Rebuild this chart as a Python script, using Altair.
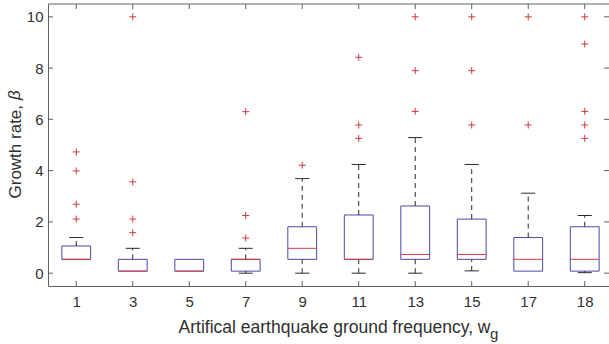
import altair as alt
import pandas as pd

# ---- data ----
cats = ["1", "3", "5", "7", "9", "11", "13", "15", "17", "18"]
q1 = [0.54, 0.08, 0.08, 0.08, 0.54, 0.54, 0.54, 0.54, 0.08, 0.08]
med = [0.54, 0.08, 0.08, 0.54, 0.97, 0.54, 0.73, 0.73, 0.54, 0.54]
q3 = [1.06, 0.54, 0.54, 0.54, 1.81, 2.27, 2.62, 2.11, 1.39, 1.81]
w_lo = [0.54, 0.08, 0.08, 0.00, 0.00, 0.00, 0.00, 0.09, 0.08, 0.02]
w_hi = [1.39, 0.97, 0.54, 0.97, 3.69, 4.24, 5.29, 4.24, 3.12, 2.25]

out_cat = ["1", "1", "1", "1",
           "3", "3", "3", "3",
           "7", "7", "7",
           "9",
           "11", "11", "11",
           "13", "13", "13",
           "15", "15", "15",
           "17", "17",
           "18", "18", "18", "18", "18"]
out_val = [4.73, 3.99, 2.69, 2.11,
           10.0, 3.56, 2.11, 1.58,
           6.30, 2.25, 1.37,
           4.21,
           8.42, 5.78, 5.26,
           10.0, 7.90, 6.31,
           10.0, 7.90, 5.78,
           10.0, 5.78,
           10.0, 8.94, 6.31, 5.78, 5.26]

y_ticks = [0, 2, 4, 6, 8, 10]

# ---- styling ----
W, H = 561, 282
BLUE = "#4848a8"
RED = "#d03c3c"
WHISK = "#2a2a2a"
AX = "#606060"
TXT = "#303030"
FONT = "Liberation Sans"

idx = list(range(1, len(cats) + 1))
box_df = pd.DataFrame({"i": idx, "cat": cats, "q1": q1, "med": med, "q3": q3,
                       "wlo": w_lo, "whi": w_hi})
out_df = pd.DataFrame({"i": [cats.index(c) + 1 for c in out_cat], "v": out_val})

xscale = alt.Scale(domain=[0.5, 10.43], nice=False, zero=False)
yscale = alt.Scale(domain=[-0.5, 10.5], nice=False, zero=False)

label_expr = "[" + ",".join("'%s'" % c for c in cats) + "][datum.value - 1]"

xaxis = alt.Axis(values=idx, labelExpr=label_expr, ticks=False, grid=False,
                 labelFontSize=15, labelPadding=8, labelColor=TXT, labelFont=FONT,
                 domainColor=AX, title="Artifical earthquake ground frequency, w",
                 titleFontSize=17.5, titleFont=FONT, titleFontWeight="normal",
                 titleColor=TXT, titleAlign="right", titleX=442, titleY=46,
                 titleBaseline="alphabetic")
yaxis = alt.Axis(values=y_ticks, ticks=False, grid=False, labelFontSize=15,
                 labelPadding=5, labelColor=TXT, labelFont=FONT, domainColor=AX,
                 title="Growth rate,", titleFontSize=17, titleFont=FONT,
                 titleFontWeight="normal", titleColor=TXT, titleAngle=270,
                 titleAlign="left", titleX=-28, titleY=194,
                 titleBaseline="alphabetic")


def X(f):
    return alt.X(f, scale=xscale, axis=xaxis)


def Y(f):
    return alt.Y(f, scale=yscale, axis=yaxis)


base = alt.Chart(box_df)

boxes = base.transform_calculate(
    x1="datum.i - 0.255", x2="datum.i + 0.255"
).mark_rect(fillOpacity=0, stroke=BLUE, strokeWidth=1).encode(
    x=X("x1:Q"), x2="x2:Q", y=Y("q1:Q"), y2="q3:Q")

medians = base.transform_calculate(
    x1="datum.i - 0.255", x2="datum.i + 0.255"
).mark_rule(color=RED, strokeWidth=1).encode(
    x=X("x1:Q"), x2="x2:Q", y=Y("med:Q"))

wh_up = base.transform_filter("datum.whi > datum.q3").mark_rule(
    color=WHISK, strokeWidth=1, strokeDash=[5, 4]).encode(
    x=X("i:Q"), y=Y("q3:Q"), y2="whi:Q")

wh_lo = base.transform_filter("datum.wlo < datum.q1").mark_rule(
    color=WHISK, strokeWidth=1, strokeDash=[5, 4]).encode(
    x=X("i:Q"), y=Y("wlo:Q"), y2="q1:Q")

cap_up = base.transform_filter("datum.whi > datum.q3").transform_calculate(
    c1="datum.i - 0.125", c2="datum.i + 0.125"
).mark_rule(color=WHISK, strokeWidth=1).encode(
    x=X("c1:Q"), x2="c2:Q", y=Y("whi:Q"))

cap_lo = base.transform_filter("datum.wlo < datum.q1").transform_calculate(
    c1="datum.i - 0.125", c2="datum.i + 0.125"
).mark_rule(color=WHISK, strokeWidth=1).encode(
    x=X("c1:Q"), x2="c2:Q", y=Y("wlo:Q"))

outs = alt.Chart(out_df).mark_point(
    shape="M-1,0L1,0M0,-1L0,1", filled=False, stroke=RED, strokeWidth=1,
    size=49, opacity=1).encode(x=X("i:Q"), y=Y("v:Q"))

# inward frame ticks (box-on style)
yt_df = pd.DataFrame({"v": y_ticks})
xt_df = pd.DataFrame({"i": idx})
tick_left = alt.Chart(yt_df).mark_rule(color=AX).encode(
    y=Y("v:Q"), x=alt.value(0), x2=alt.value(5))
tick_right = alt.Chart(yt_df).mark_rule(color=AX).encode(
    y=Y("v:Q"), x=alt.value(W - 5), x2=alt.value(W))
tick_bot = alt.Chart(xt_df).mark_rule(color=AX).encode(
    x=X("i:Q"), y=alt.value(H - 5), y2=alt.value(H))
tick_top = alt.Chart(xt_df).mark_rule(color=AX).encode(
    x=X("i:Q"), y=alt.value(0), y2=alt.value(5))

one = alt.Chart(pd.DataFrame({"k": [0]}))
top_border = one.mark_rule(color=AX).encode(
    x=alt.value(0), x2=alt.value(W), y=alt.value(0))
sub_g = one.mark_text(text="g", font=FONT, fontSize=15, color=TXT,
                      align="left", baseline="alphabetic").encode(
    x=alt.value(442), y=alt.value(335))
beta = one.mark_text(text="β", font=FONT, fontSize=17, fontStyle="italic",
                     color=TXT, angle=270, align="left",
                     baseline="alphabetic").encode(
    x=alt.value(-28), y=alt.value(96))

chart = alt.layer(
    boxes, wh_up, wh_lo, cap_up, cap_lo, medians, outs,
    tick_left, tick_right, tick_bot, tick_top, top_border, sub_g, beta
).properties(
    width=W, height=H,
    autosize=alt.AutoSizeParams(type="none"),
    padding={"left": 48, "top": 4, "right": 0, "bottom": 58},
    background="white",
).configure_view(stroke=None)

chart.save("out.html", embed_options={"renderer": "svg", "actions": False})
